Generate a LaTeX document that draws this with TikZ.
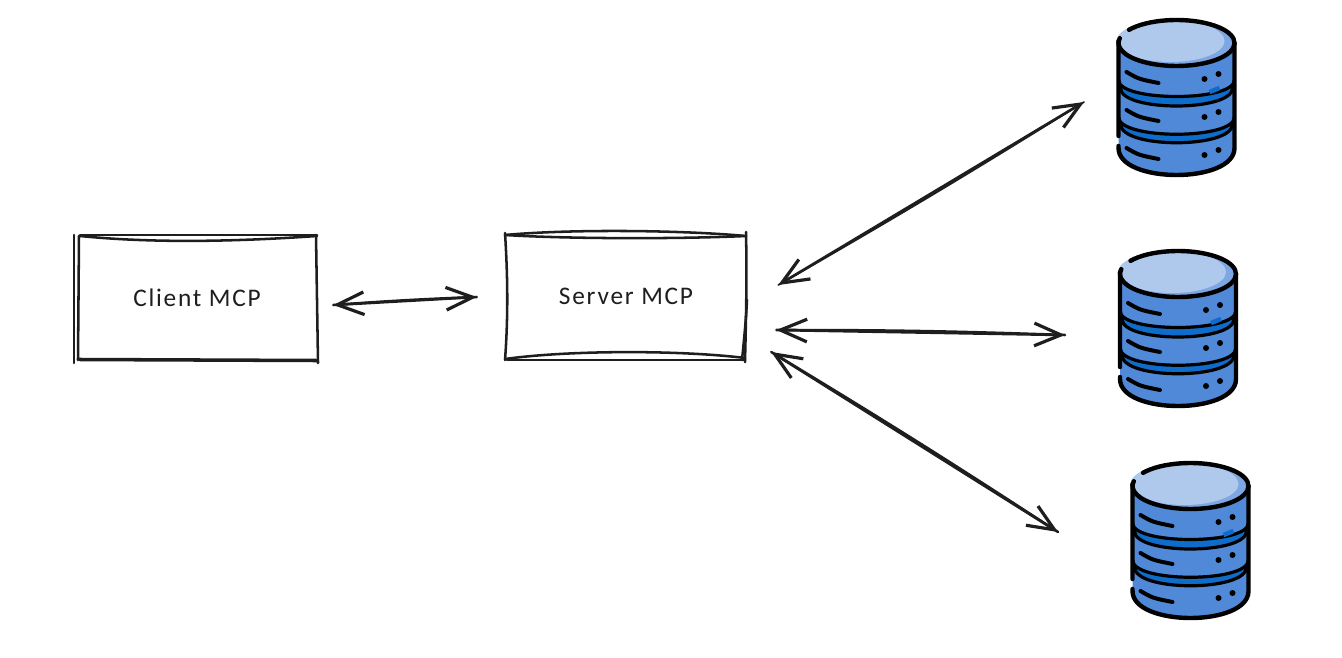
\documentclass[tikz,border=0pt]{standalone}
\usepackage{fontspec}
\setmainfont{Carlito}
\usetikzlibrary{arrows.meta}
\definecolor{encre}{HTML}{1E1E1E}
\definecolor{bleuCorps}{HTML}{5089D8}
\definecolor{bleuBande}{HTML}{0E6CCB}
\definecolor{bleuClair}{HTML}{AFC9EC}
\definecolor{bleuMoyen}{HTML}{7DA6E2}
\tikzset{
    boite/.style={minimum width=180pt,minimum height=93pt,inner sep=0pt,text=encre,font=\fontsize{19}{23}\selectfont\addfontfeatures{LetterSpace=7}},
    trait/.style={draw=encre,line width=1.9pt,line cap=round},
    fleche/.style={draw=encre,line width=2pt,line cap=round,{Straight Barb[length=20pt,width=17pt,line width=2.4pt]}-{Straight Barb[length=20pt,width=17pt,line width=2.4pt]}},
    noir/.style={draw=black,line width=3.3pt,line cap=round},
    dbicon/.pic={
        % corps et bandes
        \fill[bleuCorps] (-58,0) -- (-58,105) .. controls (-58,141) and (58,141) .. (58,105) -- (58,0) -- cycle;
        \fill[bleuBande] (-56,37) .. controls (-56,59) and (56,59) .. (56,37) -- (56,45) .. controls (56,69) and (-56,69) .. (-56,45) -- cycle;
        \fill[bleuBande] (-56,74) .. controls (-56,97) and (56,97) .. (56,74) -- (56,81) .. controls (56,106) and (-56,106) .. (-56,81) -- cycle;
        % dessus
        \fill[bleuMoyen] (0,0) ellipse [x radius=58,y radius=23];
        \fill[bleuClair] (-6,-2) ellipse [x radius=54,y radius=21];
        % contours
        \draw[noir] (-47.5,-13.2) arc [start angle=215,end angle=552,x radius=58,y radius=23];
        \draw[noir] (-58,-2) -- (-58,93) (-58,103) -- (-58,105) .. controls (-58,141) and (58,141) .. (58,105) -- (58,0);
        \draw[noir,line width=2.4pt] (-58,37) .. controls (-58,59) and (58,59) .. (58,37);
        \draw[bleuBande,line width=3.4pt] (33,49) -- (43,45);
        \draw[noir,line width=2.4pt] (-56,45) .. controls (-56,69) and (56,69) .. (56,45);
        \draw[noir,line width=2.4pt] (-58,74) .. controls (-58,97) and (58,97) .. (58,74);
        \draw[noir,line width=2.4pt] (-56,81) .. controls (-56,106) and (56,106) .. (56,81);
        % fentes et voyants
        \foreach \dy in {0,38,76}{
            \draw[noir,line width=3pt] (-50,29+\dy) .. controls (-38,36+\dy) .. (-18,40+\dy);
            \fill[black] (28,36+\dy) circle (3);
            \fill[black] (42,31+\dy) circle (3);
        }
    }
}
\begin{document}
\begin{tikzpicture}[x=0.75pt,y=-0.75pt]
\useasboundingbox (0,0) rectangle (1342,657);

% Boites
\node[boite] (clientMCP) at (197,298) {Client MCP};
\node[boite] (serverMCP) at (626,296) {Server MCP};

\draw[trait] (74,235) -- (74,363);
\draw[trait] (79,236) -- (78,360);
\draw[trait] (80,235) -- (317,235);
\draw[trait] (80,236) .. controls (150,243) and (230,242) .. (317,236);
\draw[trait] (80,360) -- (318,361);
\draw[trait] (79,359) -- (316,360);
\draw[trait] (316,235) -- (318,363);

\draw[trait] (505,233) .. controls (508,280) and (508,320) .. (505,360);
\draw[trait] (505,235) .. controls (570,229) and (680,230) .. (746,236);
\draw[trait] (505,235) .. controls (570,239) and (680,239) .. (746,236);
\draw[trait] (505,359) .. controls (570,350) and (680,350) .. (745,358);
\draw[trait] (507,360) -- (745,360);
\draw[trait] (746,232) .. controls (747,280) and (746,320) .. (745,362);
\draw[trait] (747,300) .. controls (746,320) and (744,340) .. (742,360);

% Bases
\coordinate (dbA) at (1176.5,43);
\coordinate (dbB) at (1178,274);
\coordinate (dbC) at (1190.5,486);
\pic at (dbA) {dbicon};
\pic at (dbB) {dbicon};
\pic at (dbC) {dbicon};

% Fleches
\draw[fleche] ([shift={(16,7)}]clientMCP.east) -- ([shift={(-29,1)}]serverMCP.west);
\draw[trait] ([shift={(16,7)}]clientMCP.east) to[bend left=1] ([shift={(-29,1)}]serverMCP.west);
\draw[fleche] ([shift={(32,-11)}]serverMCP.east) -- ([shift={(-92.5,59)}]dbA);
\draw[trait,line width=1.3pt] ([shift={(32,-11)}]serverMCP.east) to[bend right=1] ([shift={(-92.5,59)}]dbA);
\draw[fleche] ([shift={(30,34)}]serverMCP.east) -- ([shift={(-113,61)}]dbB);
\draw[trait] ([shift={(30,34)}]serverMCP.east) to[bend left=1] ([shift={(-113,61)}]dbB);
\draw[fleche] ([shift={(25,56)}]serverMCP.east) -- ([shift={(-132.5,46)}]dbC);
\draw[trait] ([shift={(25,56)}]serverMCP.east) to[bend left=1] ([shift={(-132.5,46)}]dbC);
\end{tikzpicture}
\end{document}
